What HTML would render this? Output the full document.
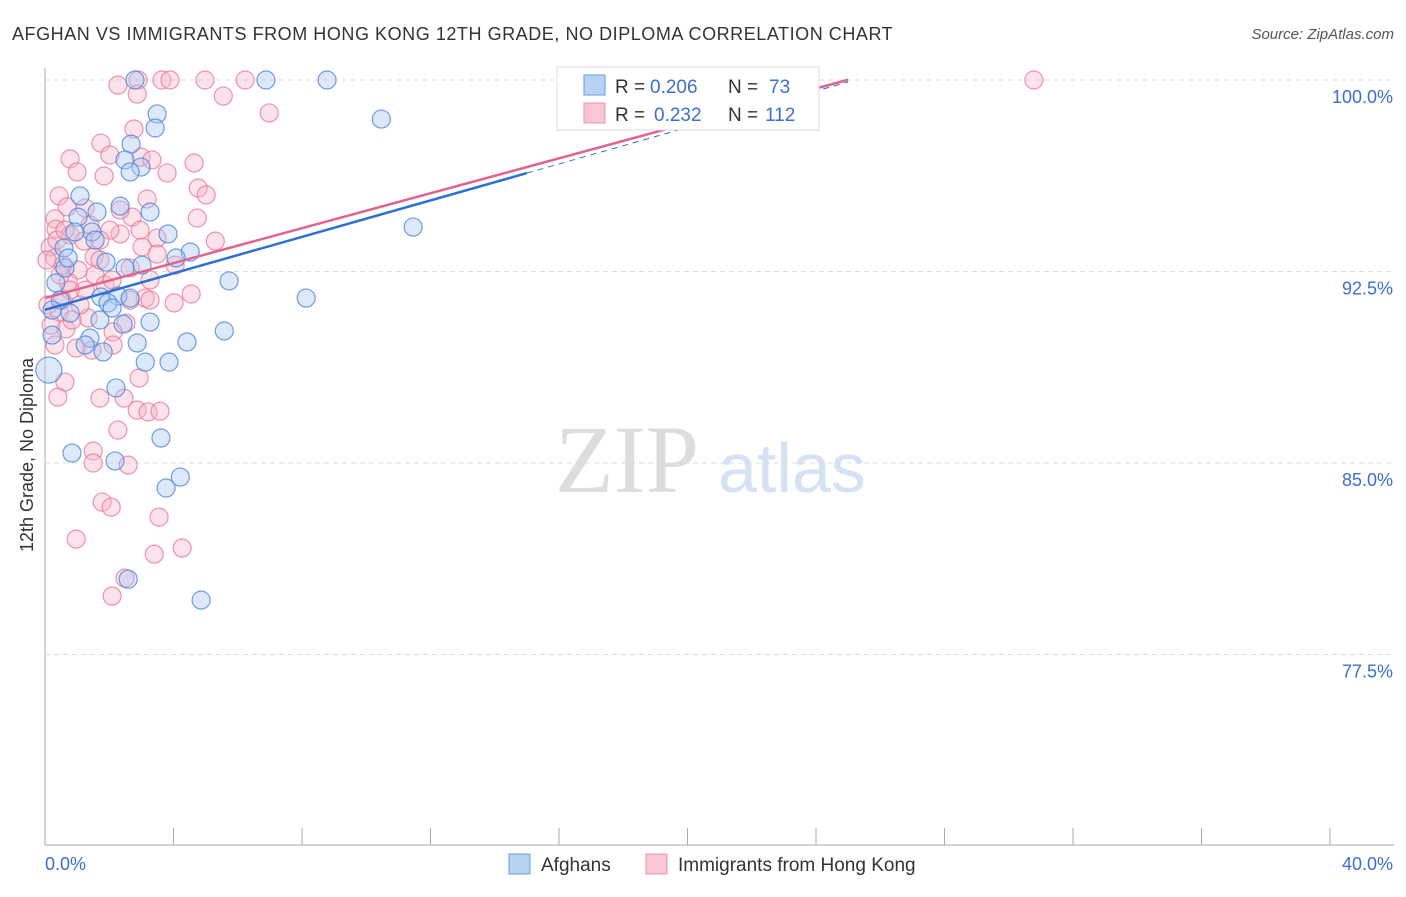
<!DOCTYPE html>
<html><head><meta charset="utf-8"><style>
body{margin:0;background:#fff;font-family:"Liberation Sans",sans-serif}
</style></head><body>
<svg width="1406" height="892" xmlns="http://www.w3.org/2000/svg" id="c">
<text x="12" y="40" font-size="18" letter-spacing="0.55" fill="#333">AFGHAN VS IMMIGRANTS FROM HONG KONG 12TH GRADE, NO DIPLOMA CORRELATION CHART</text>
<text x="1394" y="39" font-size="15" fill="#555" font-style="italic" text-anchor="end">Source: ZipAtlas.com</text>
<text x="33" y="455" font-size="18" fill="#333" transform="rotate(-90 33 455)" text-anchor="middle">12th Grade, No Diploma</text>
<text x="555" y="492" font-size="96" fill="#ddd" font-family="Liberation Serif">ZIP</text>
<text x="718" y="492" font-size="70" fill="#d5e2f3">atlas</text>
<g id="grid"></g><g id="pts"></g><g id="lines"></g>
<g>
<rect x="557" y="67" width="262" height="63" fill="#fff" stroke="#ddd"/>
<rect x="584" y="75" width="21" height="20" fill="#b8d2f5" stroke="#6a9de0"/>
<rect x="584" y="103" width="21" height="20" fill="#f9c6d4" stroke="#ec94ae"/>
<text x="615" y="93" font-size="19" fill="#333">R =</text>
<text x="650" y="93" font-size="19" fill="#3b6fd0">0.206</text>
<text x="728" y="93" font-size="19" fill="#333">N =</text>
<text x="769" y="93" font-size="19" fill="#3b6fd0">73</text>
<text x="615" y="121" font-size="19" fill="#333">R =</text>
<text x="654" y="121" font-size="19" fill="#3b6fd0">0.232</text>
<text x="728" y="121" font-size="19" fill="#333">N =</text>
<text x="765" y="121" font-size="19" fill="#3b6fd0">112</text>
</g>
<g>
<rect x="509" y="854" width="21" height="20" fill="#b8d2f5" stroke="#6a9de0"/>
<text x="541" y="871" font-size="19" fill="#333">Afghans</text>
<rect x="646" y="854" width="21" height="20" fill="#f9c6d4" stroke="#ec94ae"/>
<text x="678" y="871" font-size="19" fill="#333">Immigrants from Hong Kong</text>
</g>
</svg>
<script>
const yTicks=[100,92.5,85,77.5];
const yTickLabels=["100.0%","92.5%","85.0%","77.5%"];
const xTickLabels=["0.0%","40.0%"];
const blueX=[2.80,6.88,8.78,3.49,3.43,10.47,2.68,2.49,2.99,2.65,1.09,2.34,3.27,1.62,1.03,11.46,3.83,1.46,0.59,4.52,4.08,3.02,2.49,5.73,0.34,0.47,1.74,2.27,1.96,8.13,2.09,0.78,3.27,2.43,5.58,1.40,0.22,1.25,2.87,4.42,1.81,3.12,3.86,0.12,2.21,3.61,0.84,2.18,4.21,3.77,2.59,4.86,0.62,0.93,1.90,2.65,0.72,1.56,0.22,1.71];
const blueY=[100,100,100,98.67,98.12,98.47,97.49,96.87,96.59,96.40,95.46,95.06,94.83,94.83,94.63,94.24,93.97,94.05,93.42,93.26,93.03,92.75,92.64,92.13,92.05,91.38,91.50,91.54,91.27,91.46,91.07,90.87,90.52,90.44,90.17,89.89,90.01,89.62,89.70,89.74,89.35,88.95,88.95,88.64,87.94,85.98,85.39,85.08,84.45,84.02,80.45,79.63,92.64,94.05,92.87,91.46,93.03,93.73,90.99,90.60];
const pinkX=[2.90,3.64,3.89,4.98,6.23,30.78,2.27,2.87,5.55,6.98,2.77,1.74,2.02,0.78,2.99,3.33,1.00,1.84,3.80,4.64,0.44,3.18,4.77,5.02,0.69,1.25,0.31,4.74,2.71,0.34,2.34,3.49,2.02,0.78,5.30,0.16,3.02,3.49,1.21,0.31,1.53,0.56,1.03,2.65,0.72,1.56,4.55,4.02,3.12,0.44,1.34,2.52,2.12,0.19,0.65,0.97,1.46,2.12,0.62,0.40,1.71,2.46,2.93,2.87,3.21,3.58,2.27,1.50,1.50,2.59,1.78,2.06,3.55,0.97,4.27,3.40,2.49,2.09,0.37,0.06,1.40,2.34,1.71,1.25,0.09,0.78,1.87,1.09,0.47,3.27,0.62,2.96,4.05,2.09,1.71,2.65,0.31,0.84,3.27,0.53];
const pinkY=[100,100,100,100,100,100,99.80,99.45,99.37,98.71,98.08,97.53,97.06,96.91,96.98,96.87,96.40,96.24,96.36,96.75,95.46,95.34,95.77,95.50,95.03,94.99,94.56,94.59,94.63,94.16,93.97,93.81,94.12,93.93,93.69,93.46,93.46,93.18,93.69,93.03,93.07,92.75,92.56,92.64,92.09,92.36,91.62,91.27,91.46,90.91,90.68,90.48,90.13,90.40,90.25,89.50,89.42,89.62,88.17,87.58,87.54,87.54,88.33,87.07,87.00,87.03,86.29,85.47,85.00,84.92,83.47,83.27,82.88,82.02,81.67,81.43,80.49,79.79,93.73,92.95,94.32,94.91,92.95,91.77,91.19,91.77,91.97,91.19,92.36,92.17,94.12,94.12,92.75,92.17,93.73,91.38,89.62,90.60,91.38,91.38];
const blueTrend=[91.0,0.357];
const pinkTrend=[91.46,0.342];
const NS="http://www.w3.org/2000/svg";
const sx=v=>45+v/40*1285, sy=v=>80+(100-v)/7.5*191.5;
function mk(t,a,p){const e=document.createElementNS(NS,t);for(const k in a)e.setAttribute(k,a[k]);p.appendChild(e);return e;}
const g=document.getElementById('grid');
let ax=mk('line',{x1:45,y1:68,x2:45,y2:845,stroke:'#aaa'},g);

let bx=mk('line',{x1:45,y1:845,x2:1394,y2:845,stroke:'#aaa'},g);

yTicks.forEach((v,i)=>{
 let l=mk('line',{x1:45,x2:1394,y1:sy(v),y2:sy(v),stroke:'#ddd','stroke-dasharray':'5,4'},g);
 
 let t=mk('text',{x:1393,y:sy(v)+23,'font-size':18,fill:'#3b6fd0','text-anchor':'end'},g);t.textContent=yTickLabels[i];
 
});
for(let i=1;i<=10;i++){let x=45+i*128.5;let l=mk('line',{x1:x,x2:x,y1:828,y2:845,stroke:'#aaa'},g);
 }
[[0,45,'start'],[1,1393,'end']].forEach(([i,x,a])=>{let t=mk('text',{x:x,y:870,'font-size':18,fill:'#3b6fd0','text-anchor':a},g);t.textContent=xTickLabels[i];
 });
const P=document.getElementById('pts');
function pts(X,Y,f,s,name,big){X.forEach((x,i)=>{let r=(big&&x<0.15)?13:9;
 let c=mk('circle',{cx:sx(x),cy:sy(Y[i]),r:r,fill:f,'fill-opacity':0.4,stroke:s,'stroke-width':1.2,'stroke-opacity':0.8},P);
 });}
pts(pinkX,pinkY,'#f7b6c9','#e8799b','hongkong-point',false);
pts(blueX,blueY,'#a9c8f2','#4a86dc','afghan-point',true);
const L=document.getElementById('lines');
let pl=mk('line',{x1:sx(0),y1:sy(pinkTrend[0]),x2:sx(25),y2:sy(pinkTrend[0]+25*pinkTrend[1]),stroke:'#e0648e','stroke-width':2.5},L);

let bl=mk('line',{x1:sx(0),y1:sy(blueTrend[0]),x2:sx(15),y2:sy(blueTrend[0]+15*blueTrend[1]),stroke:'#2d6fd3','stroke-width':2.5},L);

let bd=mk('line',{x1:sx(15),y1:sy(blueTrend[0]+15*blueTrend[1]),x2:sx(25),y2:sy(blueTrend[0]+25*blueTrend[1]),stroke:'#2d6fd3','stroke-width':1,'stroke-dasharray':'6,5'},L);

</script>
</body></html>
